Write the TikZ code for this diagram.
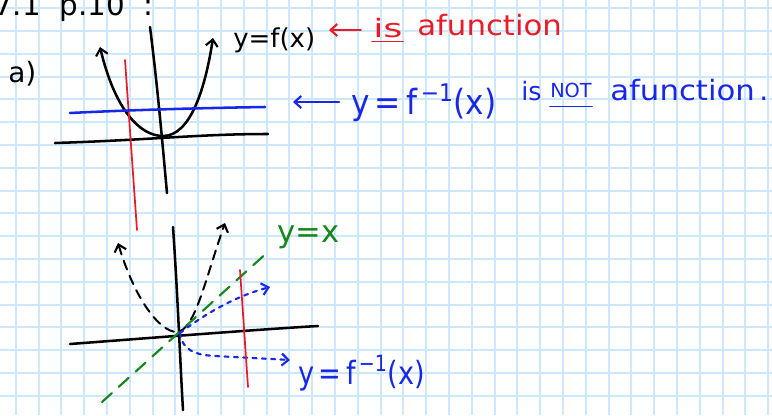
\documentclass[tikz,border=0pt]{standalone}
\usepackage{graphicx}
\usepackage{fontspec}
\setmainfont{DejaVu Sans}
\usetikzlibrary{arrows.meta}
\definecolor{gridblue}{RGB}{205,232,250}
\definecolor{penred}{RGB}{232,28,40}
\definecolor{penblue}{RGB}{22,40,232}
\definecolor{pengreen}{RGB}{20,135,25}
\tikzset{
  gridline/.style={draw=gridblue,line width=1.5pt},
  pen/.style={line width=1.9pt,line cap=round,line join=round},
  thin pen/.style={line width=1.3pt,line cap=round},
  tip/.style={-{Straight Barb[length=5pt,width=9pt,line width=1.6pt]}},
  dtip/.style={{Straight Barb[length=5pt,width=9pt,line width=1.6pt]}-{Straight Barb[length=5pt,width=9pt,line width=1.6pt]}},
  hand/.style={inner sep=0pt,anchor=base west},
}
\newcommand{\fs}[1]{\fontsize{#1}{#1}\selectfont}
\newcommand{\sx}[2]{\scalebox{#1}[1]{#2}}
\begin{document}
\begin{tikzpicture}[x=0.75pt,y=-0.75pt]
\useasboundingbox (0,0) rectangle (772,415);
\clip (0,0) rectangle (772,415);
\fill[white] (0,0) rectangle (772,415);
% grid paper
\foreach \i in {-1,...,33} \draw[gridline] ({15.7+\i*22.8},0) -- ({15.7+\i*22.8},415);
\foreach \j in {0,...,17} \draw[gridline] (0,{8.1+\j*22.8}) -- (772,{8.1+\j*22.8});

% heading (cut off at the top, as in the reference)
\node[hand,font=\fs{22}] (head) at (-6,15) {7.1\ \ p.10\ \ :};
\node[hand,font=\fs{21}] (a) at (8,82) {a)};

% ---------- graph 1 ----------
\draw[pen] (150,27) .. controls (158,90) and (163,150) .. (167,193);
\draw[pen] (55,143) .. controls (150,140) and (200,134) .. (268,134);
\draw[pen,dtip] (100,47) .. controls (115,110) and (140,136) .. (163,136)
   .. controls (190,136) and (205,90) .. (213,38);
\draw[thin pen,penred] (125,60) -- (137,230);
\draw[pen,penblue] (70,113) .. controls (130,110) and (200,108) .. (265,107);

\node[hand,font=\fs{19.5}] (fx) at (233,47) {y=f(x)};
\draw[thin pen,penred,tip] (361,30) -- (329,30);
\node[hand,font=\fs{19},text=penred] (is1) at (373,37) {\sx{1.45}{is}};
\draw[thin pen,penred] (372,41.5) -- (403,41.5);
\node[hand,font=\fs{21},text=penred] (af1) at (417,35) {\sx{1.1}{afunction}};

\draw[pen,penblue,tip] (339,102) -- (293,102);
\node[hand,font=\fs{26},text=penblue] (finv1) at (351,114) {\sx{0.9}{y\,=\,f\textsuperscript{\,−1}(x)}};
\node[hand,font=\fs{19},text=penblue] (is2) at (521,100) {is};
\node[hand,font=\fs{14.5},text=penblue] (not) at (550,97) {NOT};
\draw[thin pen,penblue] (550,106.5) -- (592,106.5);
\node[hand,font=\fs{21},text=penblue] (af2) at (610,100) {\sx{1.1}{afunction}};
\node[hand,font=\fs{21},text=penblue] (dot) at (759,100) {.};

% ---------- graph 2 ----------
\draw[pen] (173,227) .. controls (178,300) and (180,360) .. (183,410);
\draw[pen] (70,344) .. controls (150,338) and (250,330) .. (318,326);
\draw[pen,line width=1.5pt,dash pattern=on 7pt off 5pt,dtip] (118,243) .. controls (135,300) and (160,332) .. (177,332)
   .. controls (195,330) and (205,280) .. (225,223);
\draw[pen,pengreen,line width=1.6pt,dash pattern=on 10pt off 7pt] (102,402) -- (270,250);
\draw[thin pen,penblue,line width=1.6pt,dash pattern=on 3pt off 4pt,tip] (180,333) .. controls (210,310) and (240,295) .. (270,287);
\draw[thin pen,penblue,line width=1.6pt,dash pattern=on 3pt off 4pt,tip] (180,333) .. controls (182,350) and (195,355) .. (215,356) -- (290,360);
\draw[thin pen,penred] (240,270) -- (248,387);

\node[hand,font=\fs{23},text=pengreen] (yx) at (277,242) {y=x};
\node[hand,font=\fs{24},text=penblue] (finv2) at (298,384) {\sx{0.85}{y\,=\,f\textsuperscript{\,−1}(x)}};
\end{tikzpicture}
\end{document}
